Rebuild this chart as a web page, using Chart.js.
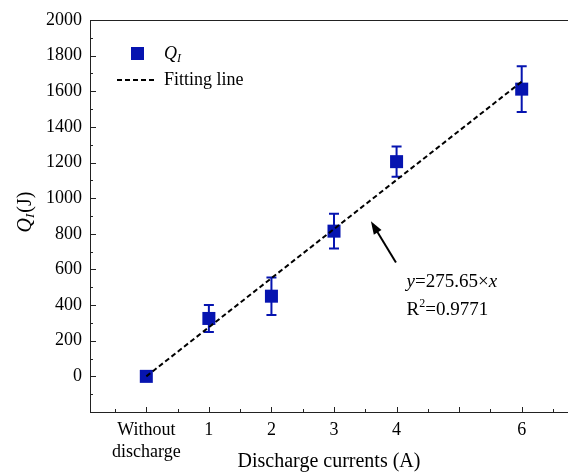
<!DOCTYPE html>
<html>
<head>
<meta charset="utf-8">
<script src="https://cdn.jsdelivr.net/npm/chart.js@4.4.1/dist/chart.umd.min.js"></script>
<style>
  html, body { margin: 0; padding: 0; background: #ffffff; overflow: hidden; }
  #wrap { width: 568px; height: 472px; }
</style>
</head>
<body>
<div id="wrap"><canvas id="myChart" width="568" height="472"></canvas></div>
<script>
// values
var currents = [0, 1, 2, 3, 4, 6];
var qValues = [0, 325, 450, 815, 1205, 1612];
var qErrors = [0, 76, 105, 97, 85, 128];
var fitX = [0, 6];
var fitY = [0, 1653.9];
var xTickValues = [-0.5, 0, 0.5, 1, 1.5, 2, 2.5, 3, 3.5, 4, 4.5, 5, 5.5, 6, 6.5];
var xTickLabels = {0: ['Without', 'discharge'], 1: '1', 2: '2', 3: '3', 4: '4', 6: '6'};

var blue = '#0614b0';
var serif = '"Liberation Serif", "Times New Roman", serif';

function pointsOf(xs, ys) {
    return xs.map(function (x, i) { return {x: x, y: ys[i]}; });
}

// error bars under the markers
var errorBars = {
    id: 'errorBars',
    beforeDatasetsDraw: function (chart) {
        var ctx = chart.ctx, xs = chart.scales.x, ys = chart.scales.y;
        ctx.save();
        ctx.strokeStyle = blue;
        ctx.lineWidth = 2;
        currents.forEach(function (c, i) {
            if (!qErrors[i]) return;
            var px = xs.getPixelForValue(c);
            var top = ys.getPixelForValue(qValues[i] + qErrors[i]);
            var bot = ys.getPixelForValue(qValues[i] - qErrors[i]);
            ctx.beginPath();
            ctx.moveTo(px, top); ctx.lineTo(px, bot);
            ctx.moveTo(px - 5, top); ctx.lineTo(px + 5, top);
            ctx.moveTo(px - 5, bot); ctx.lineTo(px + 5, bot);
            ctx.stroke();
        });
        ctx.restore();
    }
};

// inward ticks, top frame, y title, legend, fit annotation
var decorations = {
    id: 'decorations',
    afterDraw: function (chart) {
        var ctx = chart.ctx, xs = chart.scales.x, ys = chart.scales.y;
        var area = chart.chartArea;
        ctx.save();
        ctx.strokeStyle = '#222';
        ctx.lineWidth = 1;
        ctx.beginPath();
        ctx.moveTo(area.left, area.top + 0.5);
        ctx.lineTo(area.right, area.top + 0.5);
        xTickValues.forEach(function (v) {
            var px = Math.round(xs.getPixelForValue(v)) + 0.5;
            var len = Number.isInteger(v) ? 5 : 3;
            ctx.moveTo(px, area.bottom);
            ctx.lineTo(px, area.bottom - len);
        });
        ys.ticks.forEach(function (t) {
            var py = Math.round(ys.getPixelForValue(t.value)) + 0.5;
            var len = t.value % 200 === 0 ? 6 : 3;
            ctx.moveTo(area.left, py);
            ctx.lineTo(area.left + len, py);
        });
        ctx.stroke();

        // y axis title Q_I (J)
        ctx.save();
        ctx.translate(26, 212);
        ctx.rotate(-Math.PI / 2);
        ctx.fillStyle = '#000';
        ctx.textBaseline = 'middle';
        var fQ = 'italic 20px ' + serif, fS = 'italic 13px ' + serif, fJ = '20px ' + serif;
        ctx.font = fQ; var wQ = ctx.measureText('Q').width;
        ctx.font = fS; var wS = ctx.measureText('I').width;
        ctx.font = fJ; var wJ = ctx.measureText('(J)').width;
        var x0 = -(wQ + wS + 1 + wJ) / 2;
        ctx.font = fQ; ctx.fillText('Q', x0, 0);
        ctx.font = fS; ctx.fillText('I', x0 + wQ, 5);
        ctx.font = fJ; ctx.fillText('(J)', x0 + wQ + wS + 1, 0);
        ctx.restore();

        // legend
        ctx.fillStyle = blue;
        ctx.fillRect(131, 47, 13, 13);
        ctx.fillStyle = '#000';
        ctx.textBaseline = 'middle';
        ctx.font = 'italic 18px ' + serif;
        ctx.fillText('Q', 164, 54);
        var lq = ctx.measureText('Q').width;
        ctx.font = 'italic 12px ' + serif;
        ctx.fillText('I', 164 + lq, 59);
        ctx.font = '18px ' + serif;
        ctx.fillText('Fitting line', 164, 80);
        ctx.strokeStyle = '#000';
        ctx.lineWidth = 2;
        ctx.setLineDash([5, 3]);
        ctx.beginPath();
        ctx.moveTo(117, 80); ctx.lineTo(156, 80);
        ctx.stroke();
        ctx.setLineDash([]);

        // arrow to the fit line
        var tipX = xs.getPixelForValue(3.59), tipY = ys.getPixelForValue(870);
        var tailX = xs.getPixelForValue(3.99), tailY = ys.getPixelForValue(639);
        var ang = Math.atan2(tipY - tailY, tipX - tailX);
        ctx.lineWidth = 2;
        ctx.beginPath();
        ctx.moveTo(tailX, tailY);
        ctx.lineTo(tipX - 9 * Math.cos(ang), tipY - 9 * Math.sin(ang));
        ctx.stroke();
        ctx.beginPath();
        ctx.moveTo(tipX, tipY);
        ctx.lineTo(tipX - 13 * Math.cos(ang) + 4.5 * Math.sin(ang), tipY - 13 * Math.sin(ang) - 4.5 * Math.cos(ang));
        ctx.lineTo(tipX - 13 * Math.cos(ang) - 4.5 * Math.sin(ang), tipY - 13 * Math.sin(ang) + 4.5 * Math.cos(ang));
        ctx.closePath();
        ctx.fill();

        // equation text
        var tx = xs.getPixelForValue(4.16);
        var ty1 = ys.getPixelForValue(532), ty2 = ys.getPixelForValue(375);
        var parts = [['y', 'italic '], ['=275.65\u00d7', ''], ['x', 'italic ']];
        var cx = tx;
        parts.forEach(function (p) {
            ctx.font = p[1] + '19px ' + serif;
            ctx.fillText(p[0], cx, ty1);
            cx += ctx.measureText(p[0]).width;
        });
        ctx.font = '19px ' + serif;
        ctx.fillText('R', tx, ty2);
        var rw = ctx.measureText('R').width;
        ctx.font = '12px ' + serif;
        ctx.fillText('2', tx + rw, ty2 - 6);
        var tw = ctx.measureText('2').width;
        ctx.font = '19px ' + serif;
        ctx.fillText('=0.9771', tx + rw + tw, ty2);
        ctx.restore();
    }
};

var ctx = document.getElementById('myChart').getContext('2d');
var myChart = new Chart(ctx, {
    type: 'scatter',
    data: {
        datasets: [{
            type: 'line',
            label: 'Fitting line',
            data: pointsOf(fitX, fitY),
            borderColor: '#000',
            borderWidth: 2,
            borderDash: [5, 3],
            pointRadius: 0,
            fill: false
        }, {
            label: 'QI',
            data: pointsOf(currents, qValues),
            pointStyle: 'rect',
            pointRadius: 9.2,
            pointBackgroundColor: blue,
            pointBorderColor: blue,
            pointBorderWidth: 0
        }]
    },
    options: {
        responsive: false,
        animation: false,
        devicePixelRatio: 1,
        layout: {autoPadding: false, padding: {top: 20, right: 0, left: 0, bottom: 0}},
        plugins: {legend: {display: false}, tooltip: {enabled: false}},
        scales: {
            x: {
                type: 'linear',
                min: -0.9,
                max: 6.74,
                afterFit: function (scale) {
                    scale.height = 60;
                    scale.paddingRight = 0;
                },
                afterBuildTicks: function (scale) {
                    scale.ticks = xTickValues.map(function (v) { return {value: v}; });
                },
                grid: {display: false, drawTicks: false},
                border: {display: true, color: '#222', width: 1},
                ticks: {
                    autoSkip: false,
                    maxRotation: 0,
                    padding: 7,
                    color: '#000',
                    font: {family: serif, size: 18, lineHeight: 1.22},
                    callback: function (v) {
                        return xTickLabels[v] !== undefined ? xTickLabels[v] : '';
                    }
                },
                title: {
                    display: true,
                    text: 'Discharge currents (A)',
                    color: '#000',
                    font: {family: serif, size: 20, lineHeight: 1},
                    padding: {top: 0, bottom: 0}
                }
            },
            y: {
                min: -200,
                max: 2000,
                afterFit: function (scale) { scale.width = 90; },
                grid: {display: false, drawTicks: false},
                border: {display: true, color: '#222', width: 1},
                ticks: {
                    stepSize: 100,
                    autoSkip: false,
                    padding: 8,
                    color: '#000',
                    font: {family: serif, size: 18},
                    callback: function (v) { return (v % 200 === 0 && v >= 0) ? v : ''; }
                }
            }
        }
    },
    plugins: [errorBars, decorations]
});
</script>
</body>
</html>
